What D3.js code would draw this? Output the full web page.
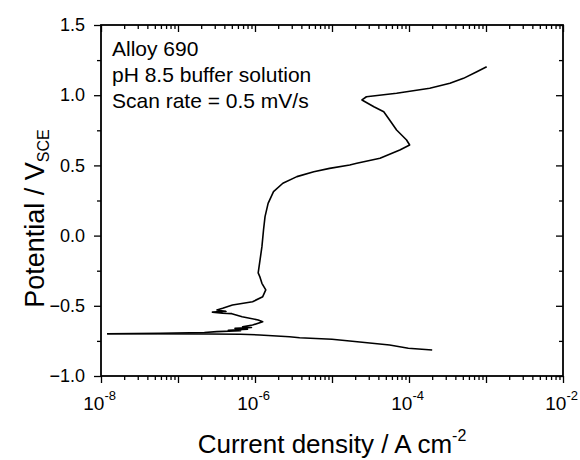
<!DOCTYPE html>
<html>
<head>
<meta charset="utf-8">
<script src="https://cdn.jsdelivr.net/npm/d3@7"></script>
<style>
  body { margin: 0; background: #fff; }
  text { font-family: "Liberation Sans", Arial, sans-serif; fill: #000; }
</style>
</head>
<body>
<script>
// chart data: current density (A/cm2) and potential (V vs SCE)
// cathodic branch, from the high-current end back to the corrosion potential
var cathI = [2.0e-4, 9.8e-5, 5.6e-5, 1.7e-5, 1.0e-5, 3.8e-6, 2.8e-6, 1.15e-6, 6.5e-7, 2.5e-7, 1.2e-8];
var cathE = [-0.815, -0.803, -0.779, -0.751, -0.739, -0.727, -0.720, -0.708, -0.703, -0.701, -0.699];

// anodic branch, from the corrosion potential upward
var anodI = [1.2e-8, 5.9e-8, 2.2e-7, 3.2e-7, 6.5e-7, 4.5e-7, 8.0e-7, 5.5e-7, 9.0e-7, 6.9e-7, 9.3e-7,
             1.26e-6, 1.1e-6, 6.8e-7, 5.0e-7, 3.8e-7, 2.8e-7, 4.2e-7, 3.2e-7, 3.8e-7, 5.1e-7, 9.3e-7,
             1.26e-6, 1.38e-6, 1.23e-6, 1.15e-6, 1.1e-6, 1.23e-6, 1.29e-6, 1.35e-6, 1.48e-6, 1.74e-6,
             2.3e-6, 3.5e-6, 5.8e-6, 9.3e-6, 1.7e-5, 2.1e-5, 4.2e-5, 7.6e-5, 1.02e-4, 9.3e-5, 6.9e-5,
             5.6e-5, 4.7e-5, 3.5e-5, 2.45e-5, 2.8e-5, 6.9e-5, 1.86e-4, 3.4e-4, 5.1e-4, 7.6e-4, 1.02e-3];
var anodE = [-0.699, -0.696, -0.690, -0.684, -0.678, -0.674, -0.667, -0.661, -0.655, -0.649, -0.637,
             -0.613, -0.601, -0.578, -0.556, -0.553, -0.545, -0.540, -0.530, -0.518, -0.494, -0.471,
             -0.435, -0.387, -0.340, -0.290, -0.266, -0.079, 0.040, 0.135, 0.230, 0.313,
             0.373, 0.420, 0.455, 0.479, 0.503, 0.515, 0.551, 0.610, 0.645, 0.681, 0.752,
             0.823, 0.882, 0.918, 0.966, 0.989, 1.014, 1.049, 1.085, 1.120, 1.167, 1.203];

var notes = ["Alloy 690", "pH 8.5 buffer solution", "Scan rate = 0.5 mV/s"];
var xLabelExps = [-8, -6, -4, -2];
var yTicks = [-1.0, -0.5, 0.0, 0.5, 1.0, 1.5];

// set the dimensions and margins of the graph
var margin = {top: 25, right: 17, bottom: 84, left: 101},
    width = 580 - margin.left - margin.right,
    height = 460 - margin.top - margin.bottom;

var x = d3.scaleLog().domain([1e-8, 1e-2]).range([0, width]);
var y = d3.scaleLinear().domain([-1.0, 1.5]).range([height, 0]);

var svg = d3.select("body").append("svg")
    .attr("width", 580)
    .attr("height", 460)
  .append("g")
    .attr("transform", "translate(" + margin.left + "," + margin.top + ")");

// tick values
var decades = d3.range(-8, -1).map(function(e) { return Math.pow(10, e); });
var minors = [];
d3.range(-8, -2).forEach(function(e) {
  for (var k = 2; k <= 9; k++) minors.push(k * Math.pow(10, e));
});
var yMinor = d3.range(-0.75, 1.5, 0.5);

function styleAxis(g) {
  g.select(".domain").remove();
  g.selectAll(".tick line").attr("stroke", "#000").attr("stroke-width", 1.3);
}

// bottom axis, major + minor
svg.append("g")
    .attr("transform", "translate(0," + height + ")")
    .call(d3.axisBottom(x).tickValues(decades).tickSize(7).tickPadding(10).tickFormat(function() { return ""; }))
    .call(styleAxis)
    .call(function(g) {
      g.selectAll(".tick text").each(function(d) {
        var e = Math.round(Math.log10(d));
        if (xLabelExps.indexOf(e) < 0) return;
        var t = d3.select(this).attr("font-size", 19).attr("dy", "0.9em").attr("dx", "-0.1em");
        t.append("tspan").text("10");
        t.append("tspan").attr("dy", -10).attr("font-size", 13).text(e);
      });
    });
svg.append("g")
    .attr("transform", "translate(0," + height + ")")
    .call(d3.axisBottom(x).tickValues(minors).tickSize(4).tickFormat(""))
    .call(styleAxis);

// top axis, ticks inward
svg.append("g")
    .call(d3.axisTop(x).tickValues(decades).tickSize(-7).tickFormat(""))
    .call(styleAxis);
svg.append("g")
    .call(d3.axisTop(x).tickValues(minors).tickSize(-4).tickFormat(""))
    .call(styleAxis);

// left axis
svg.append("g")
    .call(d3.axisLeft(y).tickValues(yTicks).tickSize(7).tickPadding(9).tickFormat(d3.format(".1f")))
    .call(styleAxis)
    .call(function(g) { g.selectAll(".tick text").attr("font-size", 18); });
svg.append("g")
    .call(d3.axisLeft(y).tickValues(yMinor).tickSize(4).tickFormat(""))
    .call(styleAxis);

// right axis, ticks inward
svg.append("g")
    .attr("transform", "translate(" + width + ",0)")
    .call(d3.axisRight(y).tickValues(yTicks).tickSize(-7).tickFormat(""))
    .call(styleAxis);
svg.append("g")
    .attr("transform", "translate(" + width + ",0)")
    .call(d3.axisRight(y).tickValues(yMinor).tickSize(-4).tickFormat(""))
    .call(styleAxis);

// frame
svg.append("rect")
    .attr("width", width)
    .attr("height", height)
    .attr("fill", "none")
    .attr("stroke", "#000")
    .attr("stroke-width", 1.8);

// define the line
var valueline = d3.line()
    .x(function(d) { return x(d[0]); })
    .y(function(d) { return y(d[1]); });

var cath = d3.zip(cathI, cathE);
var anod = d3.zip(anodI, anodE);

svg.append("path")
    .datum(cath)
    .attr("d", valueline)
    .attr("fill", "none")
    .attr("stroke", "#000")
    .attr("stroke-width", 1.5);

svg.append("path")
    .datum(anod)
    .attr("d", valueline)
    .attr("fill", "none")
    .attr("stroke", "#000")
    .attr("stroke-width", 1.6)
    .attr("stroke-linejoin", "round");

// notes
svg.selectAll(".note")
    .data(notes)
  .enter().append("text")
    .attr("class", "note")
    .attr("x", 11)
    .attr("y", function(d, i) { return 31 + i * 26; })
    .attr("font-size", 21)
    .text(function(d) { return d; });

// axis titles
var xt = svg.append("text")
    .attr("x", width / 2)
    .attr("y", height + 77)
    .attr("text-anchor", "middle")
    .attr("font-size", 26);
xt.append("tspan").text("Current density / A cm");
xt.append("tspan").attr("dy", -12).attr("font-size", 16).text("-2");

var yt = svg.append("text")
    .attr("transform", "translate(-57," + (height / 2 + 18) + ") rotate(-90)")
    .attr("text-anchor", "middle")
    .attr("font-size", 27);
yt.append("tspan").text("Potential / V");
yt.append("tspan").attr("dy", 5).attr("font-size", 16).text("SCE");
</script>
</body>
</html>
